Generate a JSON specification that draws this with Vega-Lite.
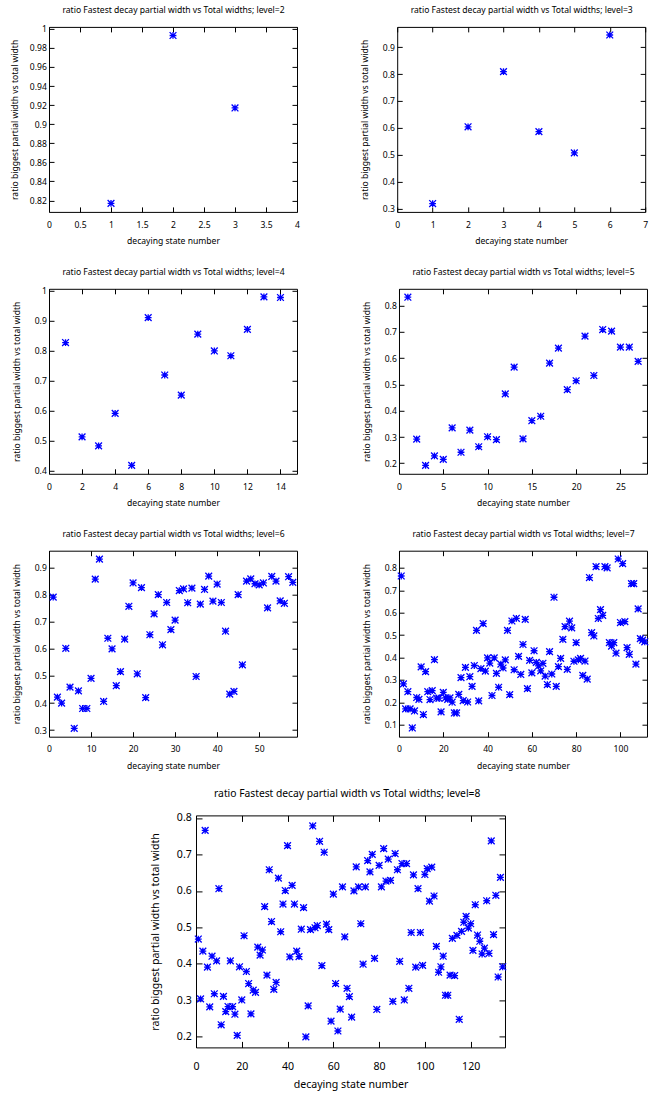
{
  "$schema": "https://vega.github.io/schema/vega-lite/v6.json",
  "autosize": {"type": "pad"},
  "padding": {"left": 9, "top": 4.9, "right": 0, "bottom": 0},
  "config": {
    "view": {"stroke": "black", "strokeWidth": 1},
    "axis": {
      "grid": false, "domain": false, "ticks": true,
      "tickColor": "black", "tickWidth": 1, "tickSize": -5,
      "labelColor": "black", "titleColor": "black",
      "labelFont": "Noto Sans", "titleFont": "Noto Sans",
      "labelFontSize": 8.6, "titleFontSize": 8.6,
      "titleFontWeight": "normal", "labelFlush": false, "labelOverlap": false,
      "titleAlign": "center", "titleBaseline": "middle"
    }
  },
  "spacing": 17.5,
  "vconcat": [
    {
      "spacing": 19.9,
      "vconcat": [
        {
          "bounds": "flush",
          "spacing": 100.2,
          "hconcat": [
            {
              "width": 248, "height": 185,
              "data": {"values": [
                {"state": 1, "ratio": 0.817}, {"state": 2, "ratio": 0.993}, {"state": 3, "ratio": 0.917}
              ]},
              "resolve": {"axis": {"x": "independent", "y": "independent"}},
              "layer": [
                {
                  "mark": {"type": "point", "shape": "M-1,0L1,0M0,-1L0,1M-1,-1L1,1M-1,1L1,-1", "filled": false, "stroke": "#0000ff", "strokeWidth": 1.3, "size": 46, "opacity": 1},
                  "encoding": {
                    "x": {"field": "state", "type": "quantitative", "scale": {"domain": [0, 4], "nice": false, "zero": false},
                      "axis": {"orient": "bottom", "values": [0, 0.5, 1, 1.5, 2, 2.5, 3, 3.5, 4], "format": ".4~g", "labelPadding": 13.3,
                        "title": "decaying state number", "titleX": 124, "titleY": 29}},
                    "y": {"field": "ratio", "type": "quantitative", "scale": {"domain": [0.808, 1.002], "nice": false, "zero": false},
                      "axis": {"orient": "left", "values": [0.82, 0.84, 0.86, 0.88, 0.9, 0.92, 0.94, 0.96, 0.98, 1], "format": ".4~g", "labelPadding": 7.7,
                        "title": "ratio biggest partial width vs total width", "titleAngle": -90, "titleX": -35, "titleY": 92.5}}
                  }
                },
                {
                  "mark": {"type": "point", "opacity": 0},
                  "encoding": {
                    "x": {"field": "state", "type": "quantitative", "scale": {"domain": [0, 4], "nice": false, "zero": false},
                      "axis": {"orient": "top", "values": [0, 0.5, 1, 1.5, 2, 2.5, 3, 3.5, 4], "labels": false,
                        "title": "ratio Fastest decay partial width vs Total widths; level=2", "titleX": 124, "titleY": -17.5}},
                    "y": {"field": "ratio", "type": "quantitative", "scale": {"domain": [0.808, 1.002], "nice": false, "zero": false},
                      "axis": {"orient": "right", "values": [0.82, 0.84, 0.86, 0.88, 0.9, 0.92, 0.94, 0.96, 0.98, 1], "labels": false, "title": null}}
                  }
                }
              ]
            },
            {
              "width": 248, "height": 185,
              "data": {"values": [
                {"state": 1, "ratio": 0.319}, {"state": 2, "ratio": 0.604}, {"state": 3, "ratio": 0.809},
                {"state": 4, "ratio": 0.586}, {"state": 5, "ratio": 0.507}, {"state": 6, "ratio": 0.945}
              ]},
              "resolve": {"axis": {"x": "independent", "y": "independent"}},
              "layer": [
                {
                  "mark": {"type": "point", "shape": "M-1,0L1,0M0,-1L0,1M-1,-1L1,1M-1,1L1,-1", "filled": false, "stroke": "#0000ff", "strokeWidth": 1.3, "size": 46, "opacity": 1},
                  "encoding": {
                    "x": {"field": "state", "type": "quantitative", "scale": {"domain": [0, 7], "nice": false, "zero": false},
                      "axis": {"orient": "bottom", "values": [0, 1, 2, 3, 4, 5, 6, 7], "format": ".4~g", "labelPadding": 13.3,
                        "title": "decaying state number", "titleX": 124, "titleY": 29}},
                    "y": {"field": "ratio", "type": "quantitative", "scale": {"domain": [0.288, 0.975], "nice": false, "zero": false},
                      "axis": {"orient": "left", "values": [0.3, 0.4, 0.5, 0.6, 0.7, 0.8, 0.9], "format": ".4~g", "labelPadding": 7.7,
                        "title": "ratio biggest partial width vs total width", "titleAngle": -90, "titleX": -32.4, "titleY": 92.5}}
                  }
                },
                {
                  "mark": {"type": "point", "opacity": 0},
                  "encoding": {
                    "x": {"field": "state", "type": "quantitative", "scale": {"domain": [0, 7], "nice": false, "zero": false},
                      "axis": {"orient": "top", "values": [0, 1, 2, 3, 4, 5, 6, 7], "labels": false,
                        "title": "ratio Fastest decay partial width vs Total widths; level=3", "titleX": 124, "titleY": -17.5}},
                    "y": {"field": "ratio", "type": "quantitative", "scale": {"domain": [0.288, 0.975], "nice": false, "zero": false},
                      "axis": {"orient": "right", "values": [0.3, 0.4, 0.5, 0.6, 0.7, 0.8, 0.9], "labels": false, "title": null}}
                  }
                }
              ]
            }
          ]
        },
        {
          "bounds": "flush",
          "spacing": 102,
          "hconcat": [
            {
              "width": 248, "height": 185,
              "data": {"values": [
                {"state": 1, "ratio": 0.826}, {"state": 2, "ratio": 0.512}, {"state": 3, "ratio": 0.482}, {"state": 4, "ratio": 0.590},
                {"state": 5, "ratio": 0.417}, {"state": 6, "ratio": 0.909}, {"state": 7, "ratio": 0.718}, {"state": 8, "ratio": 0.651},
                {"state": 9, "ratio": 0.854}, {"state": 10, "ratio": 0.798}, {"state": 11, "ratio": 0.782}, {"state": 12, "ratio": 0.870},
                {"state": 13, "ratio": 0.978}, {"state": 14, "ratio": 0.976}
              ]},
              "resolve": {"axis": {"x": "independent", "y": "independent"}},
              "layer": [
                {
                  "mark": {"type": "point", "shape": "M-1,0L1,0M0,-1L0,1M-1,-1L1,1M-1,1L1,-1", "filled": false, "stroke": "#0000ff", "strokeWidth": 1.3, "size": 46, "opacity": 1},
                  "encoding": {
                    "x": {"field": "state", "type": "quantitative", "scale": {"domain": [0, 15], "nice": false, "zero": false},
                      "axis": {"orient": "bottom", "values": [0, 2, 4, 6, 8, 10, 12, 14], "format": ".4~g", "labelPadding": 13.3,
                        "title": "decaying state number", "titleX": 124, "titleY": 29}},
                    "y": {"field": "ratio", "type": "quantitative", "scale": {"domain": [0.389, 1.005], "nice": false, "zero": false},
                      "axis": {"orient": "left", "values": [0.4, 0.5, 0.6, 0.7, 0.8, 0.9, 1], "format": ".4~g", "labelPadding": 7.7,
                        "title": "ratio biggest partial width vs total width", "titleAngle": -90, "titleX": -32.4, "titleY": 92.5}}
                  }
                },
                {
                  "mark": {"type": "point", "opacity": 0},
                  "encoding": {
                    "x": {"field": "state", "type": "quantitative", "scale": {"domain": [0, 15], "nice": false, "zero": false},
                      "axis": {"orient": "top", "values": [0, 2, 4, 6, 8, 10, 12, 14], "labels": false,
                        "title": "ratio Fastest decay partial width vs Total widths; level=4", "titleX": 124, "titleY": -17.5}},
                    "y": {"field": "ratio", "type": "quantitative", "scale": {"domain": [0.389, 1.005], "nice": false, "zero": false},
                      "axis": {"orient": "right", "values": [0.4, 0.5, 0.6, 0.7, 0.8, 0.9, 1], "labels": false, "title": null}}
                  }
                }
              ]
            },
            {
              "width": 248, "height": 185,
              "data": {"values": [
                {"state": 1, "ratio": 0.832}, {"state": 2, "ratio": 0.292}, {"state": 3, "ratio": 0.192}, {"state": 4, "ratio": 0.228},
                {"state": 5, "ratio": 0.215}, {"state": 6, "ratio": 0.335}, {"state": 7, "ratio": 0.242}, {"state": 8, "ratio": 0.326},
                {"state": 9, "ratio": 0.263}, {"state": 10, "ratio": 0.301}, {"state": 11, "ratio": 0.290}, {"state": 12, "ratio": 0.464},
                {"state": 13, "ratio": 0.566}, {"state": 14, "ratio": 0.293}, {"state": 15, "ratio": 0.362}, {"state": 16, "ratio": 0.379},
                {"state": 17, "ratio": 0.581}, {"state": 18, "ratio": 0.638}, {"state": 19, "ratio": 0.480}, {"state": 20, "ratio": 0.514},
                {"state": 21, "ratio": 0.684}, {"state": 22, "ratio": 0.534}, {"state": 23, "ratio": 0.709}, {"state": 24, "ratio": 0.703},
                {"state": 25, "ratio": 0.642}, {"state": 26, "ratio": 0.642}, {"state": 27, "ratio": 0.588}
              ]},
              "resolve": {"axis": {"x": "independent", "y": "independent"}},
              "layer": [
                {
                  "mark": {"type": "point", "shape": "M-1,0L1,0M0,-1L0,1M-1,-1L1,1M-1,1L1,-1", "filled": false, "stroke": "#0000ff", "strokeWidth": 1.3, "size": 46, "opacity": 1},
                  "encoding": {
                    "x": {"field": "state", "type": "quantitative", "scale": {"domain": [0, 28], "nice": false, "zero": false},
                      "axis": {"orient": "bottom", "values": [0, 5, 10, 15, 20, 25], "format": ".4~g", "labelPadding": 13.3,
                        "title": "decaying state number", "titleX": 124, "titleY": 29}},
                    "y": {"field": "ratio", "type": "quantitative", "scale": {"domain": [0.16, 0.864], "nice": false, "zero": false},
                      "axis": {"orient": "left", "values": [0.2, 0.3, 0.4, 0.5, 0.6, 0.7, 0.8], "format": ".4~g", "labelPadding": 7.7,
                        "title": "ratio biggest partial width vs total width", "titleAngle": -90, "titleX": -32.4, "titleY": 92.5}}
                  }
                },
                {
                  "mark": {"type": "point", "opacity": 0},
                  "encoding": {
                    "x": {"field": "state", "type": "quantitative", "scale": {"domain": [0, 28], "nice": false, "zero": false},
                      "axis": {"orient": "top", "values": [0, 5, 10, 15, 20, 25], "labels": false,
                        "title": "ratio Fastest decay partial width vs Total widths; level=5", "titleX": 124, "titleY": -17.5}},
                    "y": {"field": "ratio", "type": "quantitative", "scale": {"domain": [0.16, 0.864], "nice": false, "zero": false},
                      "axis": {"orient": "right", "values": [0.2, 0.3, 0.4, 0.5, 0.6, 0.7, 0.8], "labels": false, "title": null}}
                  }
                }
              ]
            }
          ]
        },
        {
          "bounds": "flush",
          "spacing": 102,
          "hconcat": [
            {
              "width": 248, "height": 186,
              "data": {"values": [
                {"state": 1, "ratio": 0.791}, {"state": 2, "ratio": 0.422}, {"state": 3, "ratio": 0.400}, {"state": 4, "ratio": 0.602},
                {"state": 5, "ratio": 0.459}, {"state": 6, "ratio": 0.307}, {"state": 7, "ratio": 0.445}, {"state": 8, "ratio": 0.380},
                {"state": 9, "ratio": 0.380}, {"state": 10, "ratio": 0.491}, {"state": 11, "ratio": 0.857}, {"state": 12, "ratio": 0.931},
                {"state": 13, "ratio": 0.406}, {"state": 14, "ratio": 0.639}, {"state": 15, "ratio": 0.600}, {"state": 16, "ratio": 0.464},
                {"state": 17, "ratio": 0.516}, {"state": 18, "ratio": 0.636}, {"state": 19, "ratio": 0.757}, {"state": 20, "ratio": 0.843},
                {"state": 21, "ratio": 0.508}, {"state": 22, "ratio": 0.826}, {"state": 23, "ratio": 0.420}, {"state": 24, "ratio": 0.652},
                {"state": 25, "ratio": 0.729}, {"state": 26, "ratio": 0.800}, {"state": 27, "ratio": 0.615}, {"state": 28, "ratio": 0.771},
                {"state": 29, "ratio": 0.671}, {"state": 30, "ratio": 0.706}, {"state": 31, "ratio": 0.815}, {"state": 32, "ratio": 0.821},
                {"state": 33, "ratio": 0.770}, {"state": 34, "ratio": 0.824}, {"state": 35, "ratio": 0.498}, {"state": 36, "ratio": 0.765},
                {"state": 37, "ratio": 0.819}, {"state": 38, "ratio": 0.868}, {"state": 39, "ratio": 0.776}, {"state": 40, "ratio": 0.839},
                {"state": 41, "ratio": 0.771}, {"state": 42, "ratio": 0.665}, {"state": 43, "ratio": 0.433}, {"state": 44, "ratio": 0.443},
                {"state": 45, "ratio": 0.800}, {"state": 46, "ratio": 0.541}, {"state": 47, "ratio": 0.850}, {"state": 48, "ratio": 0.858},
                {"state": 49, "ratio": 0.840}, {"state": 50, "ratio": 0.836}, {"state": 51, "ratio": 0.843}, {"state": 52, "ratio": 0.751},
                {"state": 53, "ratio": 0.867}, {"state": 54, "ratio": 0.850}, {"state": 55, "ratio": 0.777}, {"state": 56, "ratio": 0.768},
                {"state": 57, "ratio": 0.866}, {"state": 58, "ratio": 0.845}
              ]},
              "resolve": {"axis": {"x": "independent", "y": "independent"}},
              "layer": [
                {
                  "mark": {"type": "point", "shape": "M-1,0L1,0M0,-1L0,1M-1,-1L1,1M-1,1L1,-1", "filled": false, "stroke": "#0000ff", "strokeWidth": 1.3, "size": 46, "opacity": 1},
                  "encoding": {
                    "x": {"field": "state", "type": "quantitative", "scale": {"domain": [0, 59], "nice": false, "zero": false},
                      "axis": {"orient": "bottom", "values": [0, 10, 20, 30, 40, 50], "format": ".4~g", "labelPadding": 13.3,
                        "title": "decaying state number", "titleX": 124, "titleY": 29}},
                    "y": {"field": "ratio", "type": "quantitative", "scale": {"domain": [0.276, 0.962], "nice": false, "zero": false},
                      "axis": {"orient": "left", "values": [0.3, 0.4, 0.5, 0.6, 0.7, 0.8, 0.9], "format": ".4~g", "labelPadding": 7.7,
                        "title": "ratio biggest partial width vs total width", "titleAngle": -90, "titleX": -32.4, "titleY": 93}}
                  }
                },
                {
                  "mark": {"type": "point", "opacity": 0},
                  "encoding": {
                    "x": {"field": "state", "type": "quantitative", "scale": {"domain": [0, 59], "nice": false, "zero": false},
                      "axis": {"orient": "top", "values": [0, 10, 20, 30, 40, 50], "labels": false,
                        "title": "ratio Fastest decay partial width vs Total widths; level=6", "titleX": 124, "titleY": -17.5}},
                    "y": {"field": "ratio", "type": "quantitative", "scale": {"domain": [0.276, 0.962], "nice": false, "zero": false},
                      "axis": {"orient": "right", "values": [0.3, 0.4, 0.5, 0.6, 0.7, 0.8, 0.9], "labels": false, "title": null}}
                  }
                }
              ]
            },
            {
              "width": 248, "height": 186,
              "data": {"values": [
                {"state": 1, "ratio": 0.764}, {"state": 2, "ratio": 0.282}, {"state": 3, "ratio": 0.170}, {"state": 4, "ratio": 0.247},
                {"state": 5, "ratio": 0.170}, {"state": 6, "ratio": 0.085}, {"state": 7, "ratio": 0.161}, {"state": 8, "ratio": 0.221},
                {"state": 9, "ratio": 0.213}, {"state": 10, "ratio": 0.358}, {"state": 11, "ratio": 0.145}, {"state": 12, "ratio": 0.337},
                {"state": 13, "ratio": 0.247}, {"state": 14, "ratio": 0.212}, {"state": 15, "ratio": 0.252}, {"state": 16, "ratio": 0.390},
                {"state": 17, "ratio": 0.218}, {"state": 18, "ratio": 0.218}, {"state": 19, "ratio": 0.157}, {"state": 20, "ratio": 0.244},
                {"state": 21, "ratio": 0.219}, {"state": 22, "ratio": 0.213}, {"state": 23, "ratio": 0.219}, {"state": 24, "ratio": 0.200},
                {"state": 25, "ratio": 0.152}, {"state": 26, "ratio": 0.152}, {"state": 27, "ratio": 0.235}, {"state": 28, "ratio": 0.310},
                {"state": 29, "ratio": 0.207}, {"state": 30, "ratio": 0.356}, {"state": 31, "ratio": 0.201}, {"state": 32, "ratio": 0.314},
                {"state": 33, "ratio": 0.271}, {"state": 34, "ratio": 0.364}, {"state": 35, "ratio": 0.521}, {"state": 36, "ratio": 0.206},
                {"state": 37, "ratio": 0.350}, {"state": 38, "ratio": 0.551}, {"state": 39, "ratio": 0.339}, {"state": 40, "ratio": 0.398},
                {"state": 41, "ratio": 0.375}, {"state": 42, "ratio": 0.230}, {"state": 43, "ratio": 0.398}, {"state": 44, "ratio": 0.329},
                {"state": 45, "ratio": 0.267}, {"state": 46, "ratio": 0.370}, {"state": 47, "ratio": 0.353}, {"state": 48, "ratio": 0.389},
                {"state": 49, "ratio": 0.521}, {"state": 50, "ratio": 0.234}, {"state": 51, "ratio": 0.563}, {"state": 52, "ratio": 0.345},
                {"state": 53, "ratio": 0.575}, {"state": 54, "ratio": 0.405}, {"state": 55, "ratio": 0.324}, {"state": 56, "ratio": 0.458},
                {"state": 57, "ratio": 0.570}, {"state": 58, "ratio": 0.261}, {"state": 59, "ratio": 0.387}, {"state": 60, "ratio": 0.331},
                {"state": 61, "ratio": 0.430}, {"state": 62, "ratio": 0.378}, {"state": 63, "ratio": 0.362}, {"state": 64, "ratio": 0.340},
                {"state": 65, "ratio": 0.374}, {"state": 66, "ratio": 0.317}, {"state": 67, "ratio": 0.279}, {"state": 68, "ratio": 0.426},
                {"state": 69, "ratio": 0.326}, {"state": 70, "ratio": 0.669}, {"state": 71, "ratio": 0.271}, {"state": 72, "ratio": 0.359},
                {"state": 73, "ratio": 0.396}, {"state": 74, "ratio": 0.481}, {"state": 75, "ratio": 0.538}, {"state": 76, "ratio": 0.347},
                {"state": 77, "ratio": 0.562}, {"state": 78, "ratio": 0.532}, {"state": 79, "ratio": 0.383}, {"state": 80, "ratio": 0.466},
                {"state": 81, "ratio": 0.389}, {"state": 82, "ratio": 0.396}, {"state": 83, "ratio": 0.320}, {"state": 84, "ratio": 0.384},
                {"state": 85, "ratio": 0.303}, {"state": 86, "ratio": 0.757}, {"state": 87, "ratio": 0.511}, {"state": 88, "ratio": 0.496},
                {"state": 89, "ratio": 0.806}, {"state": 90, "ratio": 0.574}, {"state": 91, "ratio": 0.614}, {"state": 92, "ratio": 0.588},
                {"state": 93, "ratio": 0.806}, {"state": 94, "ratio": 0.800}, {"state": 95, "ratio": 0.466}, {"state": 96, "ratio": 0.451},
                {"state": 97, "ratio": 0.466}, {"state": 98, "ratio": 0.419}, {"state": 99, "ratio": 0.840}, {"state": 100, "ratio": 0.556},
                {"state": 101, "ratio": 0.819}, {"state": 102, "ratio": 0.560}, {"state": 103, "ratio": 0.444}, {"state": 104, "ratio": 0.414},
                {"state": 105, "ratio": 0.730}, {"state": 106, "ratio": 0.730}, {"state": 107, "ratio": 0.370}, {"state": 108, "ratio": 0.617},
                {"state": 109, "ratio": 0.484}, {"state": 110, "ratio": 0.477}, {"state": 111, "ratio": 0.470}
              ]},
              "resolve": {"axis": {"x": "independent", "y": "independent"}},
              "layer": [
                {
                  "mark": {"type": "point", "shape": "M-1,0L1,0M0,-1L0,1M-1,-1L1,1M-1,1L1,-1", "filled": false, "stroke": "#0000ff", "strokeWidth": 1.3, "size": 46, "opacity": 1},
                  "encoding": {
                    "x": {"field": "state", "type": "quantitative", "scale": {"domain": [0, 112], "nice": false, "zero": false},
                      "axis": {"orient": "bottom", "values": [0, 20, 40, 60, 80, 100], "format": ".4~g", "labelPadding": 13.3,
                        "title": "decaying state number", "titleX": 124, "titleY": 29}},
                    "y": {"field": "ratio", "type": "quantitative", "scale": {"domain": [0.046, 0.877], "nice": false, "zero": false},
                      "axis": {"orient": "left", "values": [0.1, 0.2, 0.3, 0.4, 0.5, 0.6, 0.7, 0.8], "format": ".4~g", "labelPadding": 7.7,
                        "title": "ratio biggest partial width vs total width", "titleAngle": -90, "titleX": -32.4, "titleY": 93}}
                  }
                },
                {
                  "mark": {"type": "point", "opacity": 0},
                  "encoding": {
                    "x": {"field": "state", "type": "quantitative", "scale": {"domain": [0, 112], "nice": false, "zero": false},
                      "axis": {"orient": "top", "values": [0, 20, 40, 60, 80, 100], "labels": false,
                        "title": "ratio Fastest decay partial width vs Total widths; level=7", "titleX": 124, "titleY": -17.5}},
                    "y": {"field": "ratio", "type": "quantitative", "scale": {"domain": [0.046, 0.877], "nice": false, "zero": false},
                      "axis": {"orient": "right", "values": [0.1, 0.2, 0.3, 0.4, 0.5, 0.6, 0.7, 0.8], "labels": false, "title": null}}
                  }
                }
              ]
            }
          ]
        }
      ]
    },
    {
      "bounds": "flush",
      "spacing": 0,
      "hconcat": [
        {"width": 147, "height": 232, "data": {"values": [{}]}, "mark": {"type": "point", "opacity": 0}, "view": {"stroke": null}},
        {
          "width": 309, "height": 232,
          "data": {"values": [
            {"state": 1, "ratio": 0.468}, {"state": 2, "ratio": 0.304}, {"state": 3, "ratio": 0.435}, {"state": 4, "ratio": 0.766},
            {"state": 5, "ratio": 0.391}, {"state": 6, "ratio": 0.282}, {"state": 7, "ratio": 0.421}, {"state": 8, "ratio": 0.318},
            {"state": 9, "ratio": 0.408}, {"state": 10, "ratio": 0.606}, {"state": 11, "ratio": 0.233}, {"state": 12, "ratio": 0.311},
            {"state": 13, "ratio": 0.269}, {"state": 14, "ratio": 0.283}, {"state": 15, "ratio": 0.408}, {"state": 16, "ratio": 0.283},
            {"state": 17, "ratio": 0.262}, {"state": 18, "ratio": 0.204}, {"state": 19, "ratio": 0.392}, {"state": 20, "ratio": 0.301},
            {"state": 21, "ratio": 0.477}, {"state": 22, "ratio": 0.379}, {"state": 23, "ratio": 0.346}, {"state": 24, "ratio": 0.263},
            {"state": 25, "ratio": 0.328}, {"state": 26, "ratio": 0.322}, {"state": 27, "ratio": 0.446}, {"state": 28, "ratio": 0.424},
            {"state": 29, "ratio": 0.438}, {"state": 30, "ratio": 0.557}, {"state": 31, "ratio": 0.369}, {"state": 32, "ratio": 0.658},
            {"state": 33, "ratio": 0.516}, {"state": 34, "ratio": 0.330}, {"state": 35, "ratio": 0.349}, {"state": 36, "ratio": 0.635},
            {"state": 37, "ratio": 0.488}, {"state": 38, "ratio": 0.564}, {"state": 39, "ratio": 0.601}, {"state": 40, "ratio": 0.724},
            {"state": 41, "ratio": 0.419}, {"state": 42, "ratio": 0.615}, {"state": 43, "ratio": 0.564}, {"state": 44, "ratio": 0.435},
            {"state": 45, "ratio": 0.420}, {"state": 46, "ratio": 0.495}, {"state": 47, "ratio": 0.554}, {"state": 48, "ratio": 0.200},
            {"state": 49, "ratio": 0.285}, {"state": 50, "ratio": 0.494}, {"state": 51, "ratio": 0.778}, {"state": 52, "ratio": 0.499},
            {"state": 53, "ratio": 0.505}, {"state": 54, "ratio": 0.736}, {"state": 55, "ratio": 0.395}, {"state": 56, "ratio": 0.706},
            {"state": 57, "ratio": 0.509}, {"state": 58, "ratio": 0.494}, {"state": 59, "ratio": 0.243}, {"state": 60, "ratio": 0.591},
            {"state": 61, "ratio": 0.346}, {"state": 62, "ratio": 0.216}, {"state": 63, "ratio": 0.276}, {"state": 64, "ratio": 0.611},
            {"state": 65, "ratio": 0.474}, {"state": 66, "ratio": 0.333}, {"state": 67, "ratio": 0.310}, {"state": 68, "ratio": 0.254},
            {"state": 69, "ratio": 0.600}, {"state": 70, "ratio": 0.666}, {"state": 71, "ratio": 0.611}, {"state": 72, "ratio": 0.510},
            {"state": 73, "ratio": 0.399}, {"state": 74, "ratio": 0.611}, {"state": 75, "ratio": 0.683}, {"state": 76, "ratio": 0.652},
            {"state": 77, "ratio": 0.700}, {"state": 78, "ratio": 0.415}, {"state": 79, "ratio": 0.275}, {"state": 80, "ratio": 0.670},
            {"state": 81, "ratio": 0.611}, {"state": 82, "ratio": 0.716}, {"state": 83, "ratio": 0.627}, {"state": 84, "ratio": 0.687},
            {"state": 85, "ratio": 0.629}, {"state": 86, "ratio": 0.297}, {"state": 87, "ratio": 0.702}, {"state": 88, "ratio": 0.658},
            {"state": 89, "ratio": 0.407}, {"state": 90, "ratio": 0.675}, {"state": 91, "ratio": 0.301}, {"state": 92, "ratio": 0.675},
            {"state": 93, "ratio": 0.333}, {"state": 94, "ratio": 0.486}, {"state": 95, "ratio": 0.644}, {"state": 96, "ratio": 0.391},
            {"state": 97, "ratio": 0.606}, {"state": 98, "ratio": 0.486}, {"state": 99, "ratio": 0.396}, {"state": 100, "ratio": 0.645},
            {"state": 101, "ratio": 0.661}, {"state": 102, "ratio": 0.572}, {"state": 103, "ratio": 0.665}, {"state": 104, "ratio": 0.586},
            {"state": 105, "ratio": 0.448}, {"state": 106, "ratio": 0.377}, {"state": 107, "ratio": 0.392}, {"state": 108, "ratio": 0.421},
            {"state": 109, "ratio": 0.314}, {"state": 110, "ratio": 0.314}, {"state": 111, "ratio": 0.369}, {"state": 112, "ratio": 0.470},
            {"state": 113, "ratio": 0.368}, {"state": 114, "ratio": 0.478}, {"state": 115, "ratio": 0.248}, {"state": 116, "ratio": 0.489},
            {"state": 117, "ratio": 0.514}, {"state": 118, "ratio": 0.530}, {"state": 119, "ratio": 0.498}, {"state": 120, "ratio": 0.510},
            {"state": 121, "ratio": 0.437}, {"state": 122, "ratio": 0.562}, {"state": 123, "ratio": 0.479}, {"state": 124, "ratio": 0.462},
            {"state": 125, "ratio": 0.427}, {"state": 126, "ratio": 0.443}, {"state": 127, "ratio": 0.573}, {"state": 128, "ratio": 0.429},
            {"state": 129, "ratio": 0.737}, {"state": 130, "ratio": 0.480}, {"state": 131, "ratio": 0.588}, {"state": 132, "ratio": 0.364},
            {"state": 133, "ratio": 0.637}, {"state": 134, "ratio": 0.392}
          ]},
          "resolve": {"axis": {"x": "independent", "y": "independent"}},
          "layer": [
            {
              "mark": {"type": "point", "shape": "M-1,0L1,0M0,-1L0,1M-1,-1L1,1M-1,1L1,-1", "filled": false, "stroke": "#0000ff", "strokeWidth": 1.3, "size": 46, "opacity": 1},
              "encoding": {
                "x": {"field": "state", "type": "quantitative", "scale": {"domain": [0, 135], "nice": false, "zero": false},
                  "axis": {"orient": "bottom", "values": [0, 20, 40, 60, 80, 100, 120], "format": ".4~g", "tickSize": -6, "labelPadding": 20.6,
                    "labelFontSize": 10.6, "titleFontSize": 10.6,
                    "title": "decaying state number", "titleX": 154.5, "titleY": 36.7}},
                "y": {"field": "ratio", "type": "quantitative", "scale": {"domain": [0.171, 0.807], "nice": false, "zero": false},
                  "axis": {"orient": "left", "values": [0.2, 0.3, 0.4, 0.5, 0.6, 0.7, 0.8], "format": ".4~g", "tickSize": -6, "labelPadding": 10.7,
                    "labelFontSize": 10.6, "titleFontSize": 10.6,
                    "title": "ratio biggest partial width vs total width", "titleAngle": -90, "titleX": -40.7, "titleY": 116}}
              }
            },
            {
              "mark": {"type": "point", "opacity": 0},
              "encoding": {
                "x": {"field": "state", "type": "quantitative", "scale": {"domain": [0, 135], "nice": false, "zero": false},
                  "axis": {"orient": "top", "values": [0, 20, 40, 60, 80, 100, 120], "labels": false, "tickSize": -6,
                    "titleFontSize": 10.3,
                    "title": "ratio Fastest decay partial width vs Total widths; level=8", "titleX": 150.7, "titleY": -21.4}},
                "y": {"field": "ratio", "type": "quantitative", "scale": {"domain": [0.171, 0.807], "nice": false, "zero": false},
                  "axis": {"orient": "right", "values": [0.2, 0.3, 0.4, 0.5, 0.6, 0.7, 0.8], "labels": false, "tickSize": -6, "title": null}}
              }
            }
          ]
        }
      ]
    }
  ]
}
